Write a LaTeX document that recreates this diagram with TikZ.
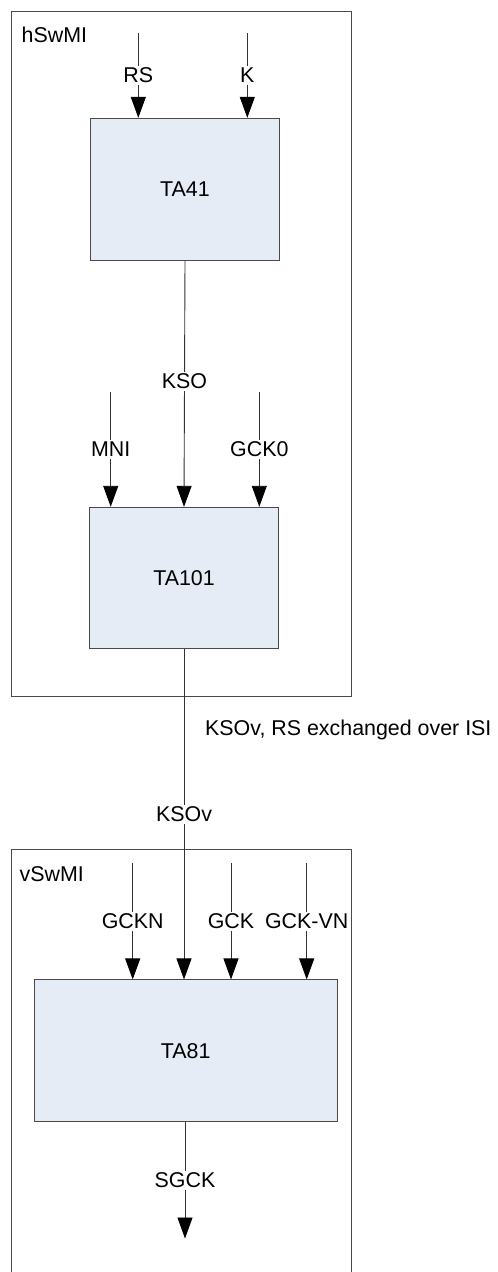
\documentclass[tikz,border=0pt]{standalone}
\usepackage{fontspec}
\setmainfont{Liberation Sans}
\usetikzlibrary{arrows.meta}
\definecolor{tafill}{HTML}{E6ECF6}
\definecolor{edgegray}{HTML}{4A4A4A}
\begin{document}
\begin{tikzpicture}[
    x=1pt, y=-1pt,
    font=\fontsize{21.4}{25}\selectfont,
    swmi/.style={draw=edgegray, line width=1pt},
    ta/.style={draw=edgegray, fill=tafill, line width=1pt},
    sig/.style={-{Triangle[length=21pt, width=15pt, color=black, fill=black]}, draw=black!80, line width=0.9pt},
    lbl/.style={fill=white, inner sep=2pt}
    ]

    \useasboundingbox (0,0) rectangle (498,1272);

    % the two SwMI frames
    \draw[swmi] (11.7,11.7) rectangle (351.7,696.7);
    \draw[swmi] (11.7,1290) -- (11.7,849) -- (351.7,849) -- (351.7,1290);
    \node[anchor=west, inner sep=0pt] (hSwMI) at (21.5,35) {hSwMI};
    \node[anchor=west, inner sep=0pt] (vSwMI) at (19.5,874) {vSwMI};

    % blocks
    \node[ta, minimum width=188.6pt, minimum height=141.7pt] (TA41) at (185,189.2) {TA41};
    \node[ta, minimum width=189.6pt, minimum height=141pt] (TA101) at (184,577.8) {TA101};
    \node[ta, minimum width=303.3pt, minimum height=141.7pt] (TA81) at (185.7,1050.8) {TA81};

    % free ends
    \coordinate (RSin) at (138.3,33.3);
    \coordinate (Kin) at (247.3,33.3);
    \coordinate (MNIin) at (110.7,391.7);
    \coordinate (GCK0in) at (259.3,391.7);
    \coordinate (GCKNin) at (132.7,863);
    \coordinate (GCKin) at (231,863);
    \coordinate (GCKVNin) at (306.7,863);
    \coordinate (SGCKout) at (185,1238.5);

    \draw[sig] (RSin) -- node[lbl] {RS} (RSin |- TA41.north);
    \draw[sig] (Kin) -- node[lbl] {K} (Kin |- TA41.north);

    \draw[sig] (TA41.south) -- node[lbl, pos=0.49] {KSO} (TA101.north);
    \draw[sig] (MNIin) -- node[lbl] {MNI} (MNIin |- TA101.north);
    \draw[sig] (GCK0in) -- node[lbl] {GCK0} (GCK0in |- TA101.north);

    \draw[sig] (TA101.south) -- node[lbl] {KSOv} (TA101.south |- TA81.north);
    \node[anchor=west, inner sep=0pt] (ISI) at (205,730) {KSOv, RS exchanged over ISI};

    \draw[sig] (GCKNin) -- node[lbl] {GCKN} (GCKNin |- TA81.north);
    \draw[sig] (GCKin) -- node[lbl] {GCK} (GCKin |- TA81.north);
    \draw[sig] (GCKVNin) -- node[lbl] {GCK-VN} (GCKVNin |- TA81.north);

    \draw[sig] (TA81.south -| SGCKout) -- node[lbl] {SGCK} (SGCKout);

\end{tikzpicture}
\end{document}
